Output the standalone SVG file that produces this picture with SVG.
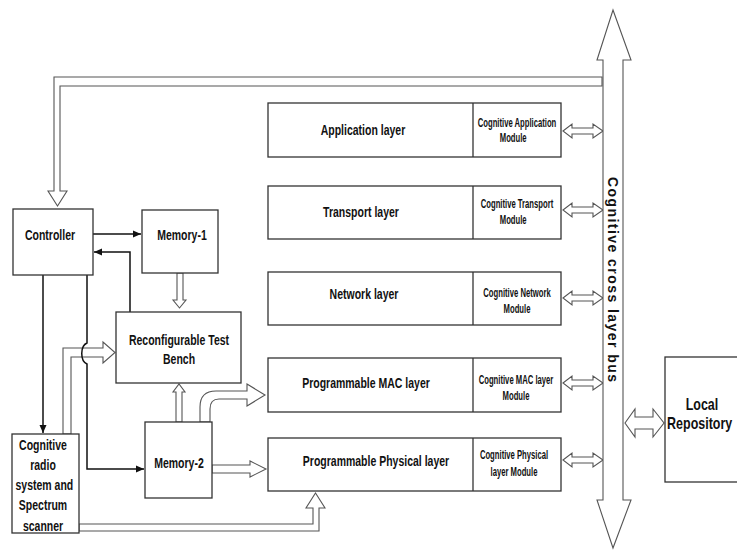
<svg xmlns="http://www.w3.org/2000/svg" width="737" height="550" viewBox="0 0 737 550">
<defs>
<style>
.box{fill:#fff;stroke:#333;stroke-width:1.3}
.hol{fill:#fff;stroke:#555;stroke-width:1.1;stroke-linejoin:miter}
.ln{fill:none;stroke:#111;stroke-width:1.5}
.t{font-family:"Liberation Sans",Arial,sans-serif;font-weight:bold;font-size:15px;fill:#111;text-anchor:middle}
.m{font-family:"Liberation Sans",Arial,sans-serif;font-weight:bold;font-size:12px;fill:#111;text-anchor:middle}
.bus{font-family:"Liberation Sans",Arial,sans-serif;font-weight:bold;font-size:14px;fill:#111}
</style>
<marker id="ah" markerUnits="userSpaceOnUse" markerWidth="9" markerHeight="8" refX="8" refY="4" orient="auto">
<path d="M0,0.5 L8,4 L0,7.5 Z" fill="#111"/>
</marker>
</defs>
<rect width="737" height="550" fill="#fff"/>

<g id="connectors">
<!-- bus to controller -->
<path class="hol" d="M602,77 H54 V191 H48 L57.5,206 L67,191 H60 V86 H602 Z"/>
<!-- module to bus double arrows -->
<path class="hol" d="M563,131 L572,124 V128 H593 V124 L603,131 L593,138 V134 H572 V138 Z"/>
<path class="hol" d="M563,210 L572,203 V207 H593 V203 L603,210 L593,217 V213 H572 V217 Z"/>
<path class="hol" d="M563,298 L572,291 V295 H593 V291 L603,298 L593,305 V301 H572 V305 Z"/>
<path class="hol" d="M563,383 L572,376 V380 H593 V376 L603,383 L593,390 V386 H572 V390 Z"/>
<path class="hol" d="M563,460 L572,453 V457 H593 V453 L603,460 L593,467 V463 H572 V467 Z"/>
<!-- bus to repository -->
<path class="hol" d="M625,423 L635,409 V417 H653 V409 L664,423 L653,437 V429 H635 V437 Z"/>
<!-- radio to RTB -->
<path class="hol" d="M63,434 V348 H103 V342 L115,352.5 L103,363 V357 H71 V434 Z"/>
<!-- memory-1 to RTB -->
<path class="hol" d="M177,273 V300 H173 L179.5,308 L186,300 H183 V273 Z"/>
<!-- memory-2 to RTB -->
<path class="hol" d="M176,422 V392 H173 L179,384 L185,392 H182 V422 Z"/>
<!-- memory-2 to MAC (curved) -->
<path class="hol" d="M200,422 V407 Q200,391 216,391 H247 V384 L265,395 L247,406 V399 H219 Q210,399 210,409 V422 Z"/>
<!-- memory-2 to physical -->
<path class="hol" d="M212,465 H250 V461 L266,469 L250,477 V473 H212 Z"/>
<!-- radio to physical -->
<path class="hol" d="M79,524 H313 V508 H306 L315.5,493 L325,508 H319 V531 H79 Z"/>
<!-- solid arrows -->
<path class="ln" d="M93,234 H141" marker-end="url(#ah)"/>
<path class="ln" d="M130,312 V252 H94" marker-end="url(#ah)"/>
<path class="ln" d="M43,275 V433" marker-end="url(#ah)"/>
<path class="ln" d="M87,275 V343 C80,346 80,361 87,364 V469 H144" marker-end="url(#ah)"/>
</g>

<g id="bus">
<path class="hol" d="M613,10 L631,60 H623 V500 H631 L613,548 L597,500 H603 V60 H597 Z"/>
<text class="bus" transform="translate(608,177) rotate(90)" textLength="205" lengthAdjust="spacing">Cognitive cross layer bus</text>
</g>

<g id="controller">
<rect class="box" x="13" y="209" width="80" height="66"/>
<text class="t" transform="translate(50,240) scale(0.7,1)">Controller</text>
</g>
<g id="memory1">
<rect class="box" x="142" y="210" width="76" height="63"/>
<text class="t" transform="translate(182,240) scale(0.7,1)">Memory-1</text>
</g>
<g id="rtb">
<rect class="box" x="116" y="312" width="125" height="71"/>
<text class="t" transform="translate(179,345) scale(0.7,1)"><tspan x="0" dy="0">Reconfigurable Test</tspan><tspan x="0" dy="19">Bench</tspan></text>
</g>
<g id="memory2">
<rect class="box" x="145" y="422" width="67" height="76"/>
<text class="t" transform="translate(179,468) scale(0.7,1)">Memory-2</text>
</g>
<g id="radio">
<rect class="box" x="12" y="434" width="67" height="99"/>
<text class="t" transform="translate(43,450) scale(0.7,1)"><tspan x="0" dy="0">Cognitive</tspan><tspan x="0" dy="20">radio</tspan><tspan x="2" dy="20">system and</tspan><tspan x="0" dy="20">Spectrum</tspan><tspan x="0" dy="21">scanner</tspan></text>
</g>

<g id="application">
<rect class="box" x="268" y="103" width="293" height="54"/>
<line class="box" x1="473" y1="103" x2="473" y2="157"/>
<text class="t" transform="translate(363,135) scale(0.7,1)">Application layer</text>
<text class="m" transform="translate(517,127) scale(0.64,1)"><tspan x="0" dy="0">Cognitive Application</tspan><tspan x="-6" dy="15">Module</tspan></text>
</g>
<g id="transport">
<rect class="box" x="268" y="186" width="293" height="53"/>
<line class="box" x1="473" y1="186" x2="473" y2="239"/>
<text class="t" transform="translate(361,217) scale(0.7,1)">Transport layer</text>
<text class="m" transform="translate(517,208) scale(0.64,1)"><tspan x="0" dy="0">Cognitive Transport</tspan><tspan x="-6" dy="16">Module</tspan></text>
</g>
<g id="network">
<rect class="box" x="268" y="272" width="293" height="53"/>
<line class="box" x1="473" y1="272" x2="473" y2="325"/>
<text class="t" transform="translate(364,299) scale(0.7,1)">Network layer</text>
<text class="m" transform="translate(517,297) scale(0.64,1)"><tspan x="0" dy="0">Cognitive Network</tspan><tspan x="0" dy="16">Module</tspan></text>
</g>
<g id="mac">
<rect class="box" x="268" y="358" width="293" height="54"/>
<line class="box" x1="473" y1="358" x2="473" y2="412"/>
<text class="t" transform="translate(366,388) scale(0.7,1)">Programmable MAC layer</text>
<text class="m" transform="translate(516,384) scale(0.64,1)"><tspan x="0" dy="0">Cognitive MAC layer</tspan><tspan x="0" dy="16">Module</tspan></text>
</g>
<g id="physical">
<rect class="box" x="268" y="438" width="293" height="53"/>
<line class="box" x1="473" y1="438" x2="473" y2="491"/>
<text class="t" transform="translate(376,466) scale(0.7,1)">Programmable Physical layer</text>
<text class="m" transform="translate(514,459) scale(0.64,1)"><tspan x="0" dy="0">Cognitive Physical</tspan><tspan x="0" dy="17">layer Module</tspan></text>
</g>
<g id="repository">
<rect class="box" x="665" y="357" width="90" height="125"/>
<text class="t" transform="translate(702,410) scale(0.78,1)" style="font-size:16px"><tspan x="0" dy="0">Local</tspan><tspan x="-3" dy="19">Repository</tspan></text>
</g>
</svg>
